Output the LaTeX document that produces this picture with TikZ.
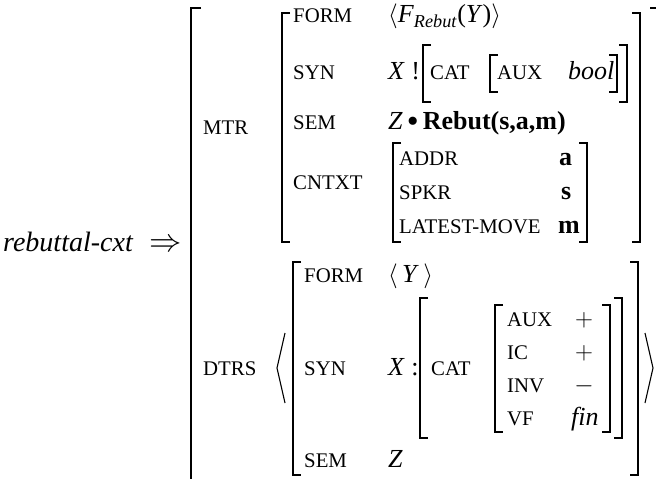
\documentclass[tikz,border=0pt]{standalone}
\usepackage{fontspec}
\setmainfont{Liberation Serif}
\begin{document}
\begin{tikzpicture}[x=1pt,y=-1pt,
  lbl/.style={anchor=base west, inner sep=0pt, font=\fontsize{20.8}{22}\selectfont},
  val/.style={anchor=base west, inner sep=0pt, font=\fontsize{26}{28}\selectfont},
  valc/.style={anchor=base, inner sep=0pt, font=\fontsize{26}{28}\selectfont},
  hd/.style={anchor=base west, inner sep=0pt, font=\fontsize{28}{30}\selectfont},
  brk/.style={line width=1.4pt, line cap=butt, line join=miter},
  ang/.style={line width=1.1pt, line join=miter}]
\useasboundingbox (0,0) rectangle (656,479);
\clip (0,0) rectangle (656,479);

% head
\node[hd] (head) at (3,251) {\textit{rebuttal-cxt}};
\node[hd] (arrow) at (149,251) {\scalebox{1.3}{$\Rightarrow$}};

% outer brackets
\draw[brk] (201,8) -- (191,8) -- (191,495) -- (201,495);
\draw[brk] (650,8) -- (660,8) -- (660,495) -- (650,495);

% MTR
\node[lbl] (mtr) at (203,134) {MTR};
\draw[brk] (290,13) -- (282,13) -- (282,242) -- (290,242);
\draw[brk] (632,13) -- (640,13) -- (640,242) -- (632,242);

\node[lbl] (form1) at (293,23) {FORM};
\node[val] (form1v) at (388,23) {$\langle$\textit{F}\textsubscript{\textit{Rebut}}(\textit{Y})$\rangle$};

\node[lbl] (syn1) at (293,79) {SYN};
\node[val] (syn1x) at (388,79) {\textit{X} !};
\draw[brk] (431,45) -- (423,45) -- (423,102) -- (431,102);
\draw[brk] (619,45) -- (627,45) -- (627,102) -- (619,102);
\node[lbl] (cat1) at (430,79) {CAT};
\draw[brk] (498,55) -- (490,55) -- (490,92) -- (498,92);
\draw[brk] (609,55) -- (617,55) -- (617,92) -- (609,92);
\node[lbl] (aux1) at (497,79) {AUX};
\node[val] (bool) at (568,79) {\textit{bool}};

\node[lbl] (sem1) at (293,129) {SEM};
\node[val] (sem1v) at (388,129) {\textit{Z}\kern4pt\raisebox{-3pt}{\fontsize{34}{34}\selectfont•}\kern4pt\textbf{Rebut(s,a,m)}};

\node[lbl] (cntxt) at (293,189) {CNTXT};
\draw[brk] (401,143) -- (393,143) -- (393,242) -- (401,242);
\draw[brk] (579,143) -- (587,143) -- (587,242) -- (579,242);
\node[lbl] (addr) at (399,165) {ADDR};
\node[lbl] (spkr) at (399,199) {SPKR};
\node[lbl] (lmove) at (399,233) {LATEST-MOVE};
\node[val] (va) at (559,165) {\textbf{a}};
\node[val] (vs) at (561,199) {\textbf{s}};
\node[val] (vm) at (558,233) {\textbf{m}};

% DTRS
\node[lbl] (dtrs) at (203,375) {DTRS};
\draw[ang] (285,333) -- (277,368) -- (285,403);
\draw[ang] (645,333) -- (653,368) -- (645,403);
\draw[brk] (301,262) -- (293,262) -- (293,475) -- (301,475);
\draw[brk] (630,262) -- (638,262) -- (638,475) -- (630,475);

\node[lbl] (form2) at (304,282) {FORM};
\node[val] (form2v) at (388,282) {$\langle$\,\textit{Y}\,$\rangle$};

\node[lbl] (syn2) at (304,375) {SYN};
\node[val] (syn2x) at (388,375) {\textit{X} :};
\draw[brk] (428,298) -- (420,298) -- (420,438) -- (428,438);
\draw[brk] (614,298) -- (622,298) -- (622,438) -- (614,438);
\node[lbl] (cat2) at (431,375) {CAT};
\draw[brk] (503,305) -- (495,305) -- (495,432) -- (503,432);
\draw[brk] (602,305) -- (610,305) -- (610,432) -- (602,432);
\node[lbl] (aux2) at (507,326) {AUX};
\node[lbl] (ic) at (507,359) {IC};
\node[lbl] (inv) at (507,392) {INV};
\node[lbl] (vf) at (507,425) {VF};
\node[valc] (vaux) at (584,326) {$+$};
\node[valc] (vic) at (584,359) {$+$};
\node[valc] (vinv) at (584,392) {$-$};
\node[val] (vvf) at (571,425) {\textit{fin}};

\node[lbl] (sem2) at (304,467) {SEM};
\node[val] (sem2v) at (388,467) {\textit{Z}};
\end{tikzpicture}
\end{document}
